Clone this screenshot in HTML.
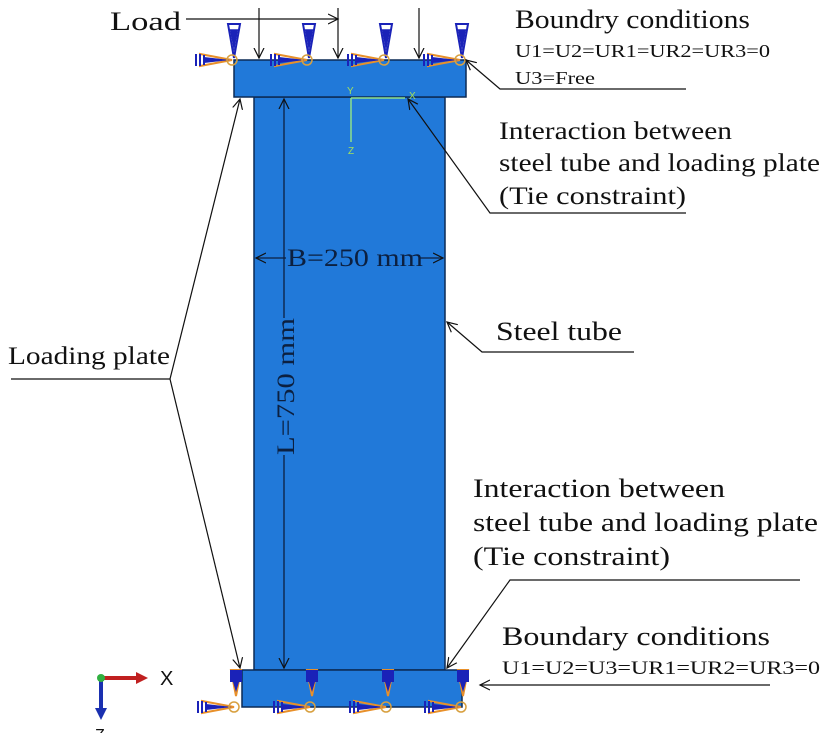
<!DOCTYPE html>
<html><head><meta charset="utf-8"><style>
html,body{margin:0;padding:0;background:#fff;}
svg{display:block;}
text{font-family:"Liberation Serif",serif;fill:#111;}
</style></head><body>
<svg width="822" height="733" viewBox="0 0 822 733" xmlns="http://www.w3.org/2000/svg">
<defs>
<marker id="a" markerWidth="12" markerHeight="12" refX="10" refY="6" orient="auto" markerUnits="userSpaceOnUse">
<path d="M0,1 L10,6 L0,11" fill="none" stroke="#111" stroke-width="1.2"/></marker>
<g id="vs"><path d="M-6,-36 L6,-36 L0,-2 Z" fill="none" stroke="#1a22b8" stroke-width="2"/><path d="M-4,-30 L4,-30 L0,-8Z" fill="#1a22b8"/><path d="M-6,-36 L6,-36 M-5,-30 L5,-30 M-4,-24 L4,-24" stroke="#1a22b8" stroke-width="1.5"/></g>
<g id="bv"><path d="M-5,0 L5,0 L0,26 Z" fill="none" stroke="#e8902a" stroke-width="2"/><rect x="-6" y="0" width="12" height="12" fill="#1a22b8"/><path d="M-3,12 L3,12 L0,22Z" fill="#1a22b8"/></g>
<g id="hs"><path d="M-34,-6 L-34,6 L-2,0 Z" fill="none" stroke="#e8902a" stroke-width="2"/><path d="M-30,-3 L-30,3 L-4,0Z" fill="#1a22b8"/><path d="M-38,-6 L-38,6 M-34,-6 L-34,6 M-30,-5 L-30,5" stroke="#1a22b8" stroke-width="2"/><circle cx="-2" cy="0" r="5" fill="none" stroke="#d8a040" stroke-width="1.5"/></g>
</defs>
<rect x="254" y="97" width="191" height="573" fill="#2179d9" stroke="#0c2a55" stroke-width="1.5"/>
<rect x="234" y="60" width="232" height="37" fill="#2179d9" stroke="#0c2a55" stroke-width="1.5"/>
<rect x="242" y="670" width="220" height="37" fill="#2179d9" stroke="#0c2a55" stroke-width="1.5"/>
<use href="#vs" x="234" y="60"/><use href="#hs" x="234" y="60"/>
<use href="#vs" x="309" y="60"/><use href="#hs" x="309" y="60"/>
<use href="#vs" x="386" y="60"/><use href="#hs" x="386" y="60"/>
<use href="#vs" x="462" y="60"/><use href="#hs" x="462" y="60"/>
<use href="#bv" x="236" y="670"/><use href="#bv" x="312" y="670"/><use href="#bv" x="388" y="670"/><use href="#bv" x="463" y="670"/>
<use href="#hs" x="236" y="707"/><use href="#hs" x="312" y="707"/><use href="#hs" x="388" y="707"/><use href="#hs" x="463" y="707"/>
<g stroke="#111" stroke-width="1.2" fill="none">
<line x1="186" y1="19" x2="338" y2="19" marker-end="url(#a)"/>
<line x1="259" y1="8" x2="259" y2="58" marker-end="url(#a)"/>
<line x1="338" y1="8" x2="338" y2="58" marker-end="url(#a)"/>
<line x1="419" y1="8" x2="419" y2="58" marker-end="url(#a)"/>
<polyline points="686,89 500,89 466,60" marker-end="url(#a)"/>
<polyline points="686,213 490,213 408,99" marker-end="url(#a)"/>
<polyline points="634,352 482,352 447,322" marker-end="url(#a)"/>
<polyline points="800,580 510,580 447,668" marker-end="url(#a)"/>
<line x1="770" y1="685" x2="480" y2="685" marker-end="url(#a)"/>
<line x1="11" y1="379" x2="170" y2="379"/>
<line x1="170" y1="379" x2="240" y2="99" marker-end="url(#a)"/>
<line x1="170" y1="379" x2="240" y2="668" marker-end="url(#a)"/>
</g>
<g stroke="#0c2040" stroke-width="1.3" fill="none">
<line x1="284" y1="318" x2="284" y2="99" marker-end="url(#a)"/>
<line x1="284" y1="455" x2="284" y2="668" marker-end="url(#a)"/>
<line x1="286" y1="258" x2="256" y2="258" marker-end="url(#a)"/>
<line x1="420" y1="258" x2="443" y2="258" marker-end="url(#a)"/>
</g>
<text x="287" y="266" font-size="25" textLength="136" lengthAdjust="spacingAndGlyphs" style="fill:#0c2040">B=250 mm</text>
<text transform="translate(294,455) rotate(-90)" font-size="25" textLength="137" lengthAdjust="spacingAndGlyphs" style="fill:#0c2040">L=750 mm</text>
<g stroke="#8fe08a" stroke-width="1.5" fill="none"><line x1="351" y1="98" x2="405" y2="98"/><line x1="351" y1="98" x2="351" y2="142"/></g>
<text x="347" y="94" font-size="10" style="fill:#a0e060;font-family:'Liberation Sans',sans-serif">Y</text>
<text x="409" y="99" font-size="10" style="fill:#a0e060;font-family:'Liberation Sans',sans-serif">X</text>
<text x="348" y="154" font-size="10" style="fill:#a0e060;font-family:'Liberation Sans',sans-serif">Z</text>
<line x1="101" y1="678" x2="140" y2="678" stroke="#c02020" stroke-width="4"/><path d="M136,672 L148,678 L136,684Z" fill="#c02020"/>
<line x1="101" y1="678" x2="101" y2="712" stroke="#1a30b0" stroke-width="4"/><path d="M95,708 L101,720 L107,708Z" fill="#1a30b0"/>
<circle cx="101" cy="678" r="4" fill="#30b040"/>
<text x="160" y="685" font-size="20" style="font-family:'Liberation Sans',sans-serif">X</text>
<text x="95" y="740" font-size="16" style="font-family:'Liberation Sans',sans-serif">Z</text>
<text x="110" y="30" font-size="26" textLength="71" lengthAdjust="spacingAndGlyphs">Load</text>
<text x="515" y="28" font-size="26" textLength="235" lengthAdjust="spacingAndGlyphs">Boundry conditions</text>
<text x="515" y="57" font-size="18" textLength="255" lengthAdjust="spacingAndGlyphs">U1=U2=UR1=UR2=UR3=0</text>
<text x="515" y="84" font-size="18" textLength="80" lengthAdjust="spacingAndGlyphs">U3=Free</text>
<text x="499" y="139" font-size="25" textLength="233" lengthAdjust="spacingAndGlyphs">Interaction between</text>
<text x="499" y="171" font-size="25" textLength="321" lengthAdjust="spacingAndGlyphs">steel tube and loading plate</text>
<text x="499" y="204" font-size="25" textLength="187" lengthAdjust="spacingAndGlyphs">(Tie constraint)</text>
<text x="496" y="340" font-size="26" textLength="126" lengthAdjust="spacingAndGlyphs">Steel tube</text>
<text x="8" y="364" font-size="25" textLength="162" lengthAdjust="spacingAndGlyphs">Loading plate</text>
<text x="473" y="497" font-size="26" textLength="252" lengthAdjust="spacingAndGlyphs">Interaction between</text>
<text x="473" y="531" font-size="26" textLength="345" lengthAdjust="spacingAndGlyphs">steel tube and loading plate</text>
<text x="473" y="565" font-size="26" textLength="197" lengthAdjust="spacingAndGlyphs">(Tie constraint)</text>
<text x="502" y="645" font-size="26" textLength="268" lengthAdjust="spacingAndGlyphs">Boundary conditions</text>
<text x="502" y="674" font-size="19" textLength="318" lengthAdjust="spacingAndGlyphs">U1=U2=U3=UR1=UR2=UR3=0</text>
</svg>
</body></html>
